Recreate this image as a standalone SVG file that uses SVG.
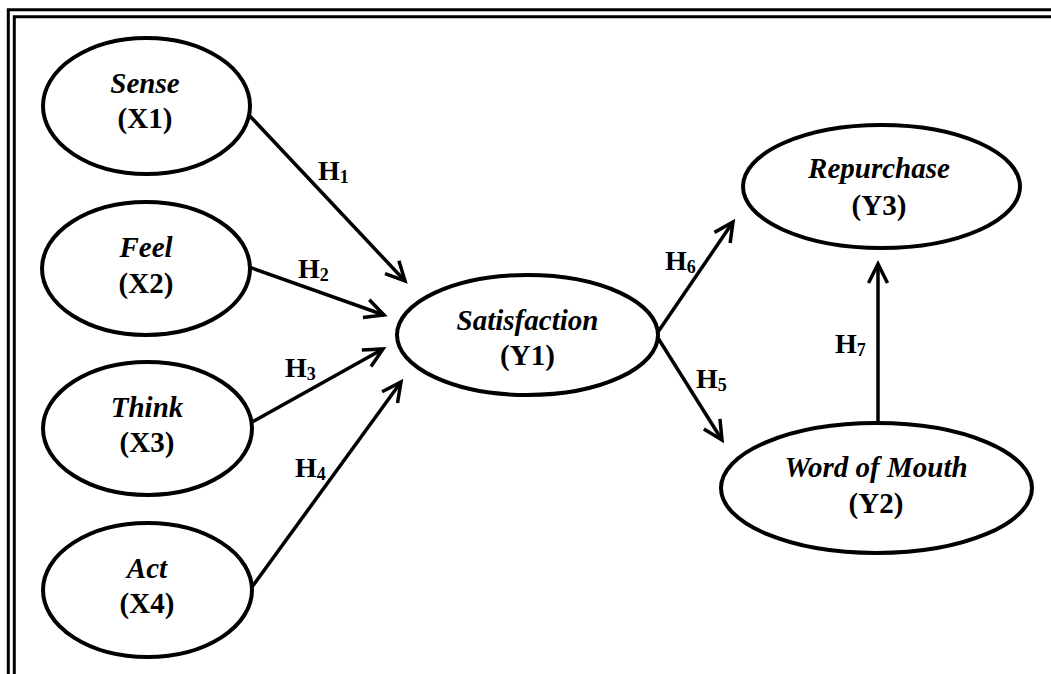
<svg xmlns="http://www.w3.org/2000/svg" width="1051" height="674" viewBox="0 0 1051 674">
<style>
.node ellipse{fill:#fff;stroke:#000;stroke-width:4}
.nm{font-family:"Liberation Serif",serif;font-weight:bold;font-style:italic;font-size:29px;text-anchor:middle}
.cd{font-family:"Liberation Serif",serif;font-weight:bold;font-size:29px;text-anchor:middle}
.lbl{font-family:"Liberation Serif",serif;font-weight:bold;font-size:28px}
.sub{font-size:18px}
.conn line{stroke:#000;stroke-width:3.5;fill:none}
.frame{fill:none;stroke:#000;stroke-width:3}
</style>
<defs>
<marker id="arr" markerUnits="userSpaceOnUse" viewBox="-24 -14 28 28" markerWidth="28" markerHeight="28" refX="0" refY="0" orient="auto">
<path d="M-19,-9.5 L0,0 L-19,9.5" fill="none" stroke="#000" stroke-width="3.5" stroke-linejoin="miter"/>
</marker>
</defs>
<rect width="1051" height="674" fill="#fff"/>
<path class="frame" d="M8.3,674 V9.8 H1051"/>
<path class="frame" d="M14.3,674 V16.8 H1051"/>

<g id="connectors" class="conn">
<line x1="249" y1="115" x2="405" y2="281" marker-end="url(#arr)"/>
<line x1="249" y1="267" x2="384" y2="315" marker-end="url(#arr)"/>
<line x1="252" y1="422" x2="383" y2="349" marker-end="url(#arr)"/>
<line x1="252" y1="587" x2="401" y2="382" marker-end="url(#arr)"/>
<line x1="658" y1="332" x2="733" y2="222" marker-end="url(#arr)"/>
<line x1="658" y1="338" x2="722" y2="440" marker-end="url(#arr)"/>
<line x1="878" y1="422" x2="878" y2="264" marker-end="url(#arr)"/>
</g>

<g id="labels">
<text class="lbl" x="318" y="180">H<tspan class="sub" dy="3">1</tspan></text>
<text class="lbl" x="298" y="278">H<tspan class="sub" dy="3">2</tspan></text>
<text class="lbl" x="285" y="377">H<tspan class="sub" dy="3">3</tspan></text>
<text class="lbl" x="295" y="477">H<tspan class="sub" dy="3">4</tspan></text>
<text class="lbl" x="696" y="388">H<tspan class="sub" dy="3">5</tspan></text>
<text class="lbl" x="665" y="270">H<tspan class="sub" dy="3">6</tspan></text>
<text class="lbl" x="835" y="353">H<tspan class="sub" dy="3">7</tspan></text>
</g>

<g id="sense" class="node">
<ellipse cx="146.5" cy="106" rx="103.5" ry="68"/>
<text class="nm" x="145" y="93">Sense</text>
<text class="cd" x="145" y="128">(X1)</text>
</g>
<g id="feel" class="node">
<ellipse cx="146" cy="268.5" rx="104" ry="66.5"/>
<text class="nm" x="146" y="257">Feel</text>
<text class="cd" x="146" y="293">(X2)</text>
</g>
<g id="think" class="node">
<ellipse cx="147.5" cy="428.5" rx="104.5" ry="66.5"/>
<text class="nm" x="147" y="417">Think</text>
<text class="cd" x="147" y="452">(X3)</text>
</g>
<g id="act" class="node">
<ellipse cx="147.5" cy="590" rx="104.5" ry="67"/>
<text class="nm" x="147" y="578">Act</text>
<text class="cd" x="147" y="613">(X4)</text>
</g>
<g id="satisfaction" class="node">
<ellipse cx="527.5" cy="335" rx="130.5" ry="60"/>
<text class="nm" x="527.5" y="330">Satisfaction</text>
<text class="cd" x="527.5" y="365">(Y1)</text>
</g>
<g id="repurchase" class="node">
<ellipse cx="881.5" cy="186.5" rx="138.5" ry="61.5"/>
<text class="nm" x="879" y="178">Repurchase</text>
<text class="cd" x="879" y="215">(Y3)</text>
</g>
<g id="wom" class="node">
<ellipse cx="876.5" cy="488" rx="155.5" ry="65"/>
<text class="nm" x="876" y="477">Word of Mouth</text>
<text class="cd" x="876" y="513">(Y2)</text>
</g>
</svg>
